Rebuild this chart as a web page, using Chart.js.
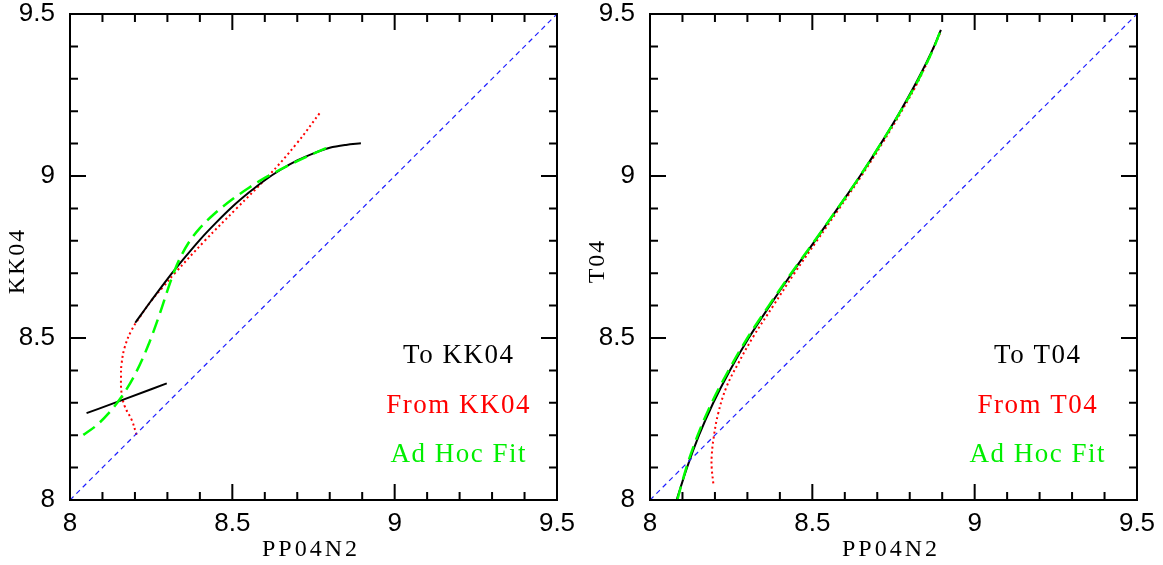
<!DOCTYPE html>
<html>
<head>
<meta charset="utf-8">
<script src="https://cdn.jsdelivr.net/npm/chart.js@4"></script>
<style>
  html, body { margin: 0; padding: 0; background: #fff; }
  #wrap { position: relative; width: 1163px; height: 565px; }
  .pane { position: absolute; top: 0; height: 565px; }
</style>
</head>
<body>
<div id="wrap">
  <div class="pane" style="left:0;width:580px"><canvas id="c1"></canvas></div>
  <div class="pane" style="left:580px;width:583px"><canvas id="c2"></canvas></div>
</div>
<script>
// ---------- data ----------
const axisMin = 8, axisMax = 9.5;
const xTitle = 'PP04N2';
const leftYTitle = 'KK04';
const rightYTitle = 'T04';
const identityX = [8, 8.5, 9, 9.5];
const identityY = [8, 8.5, 9, 9.5];

// Left panel (KK04)
const leftToUpperX = [8.201, 8.25, 8.30, 8.35, 8.40, 8.45, 8.50, 8.55, 8.60, 8.65, 8.70, 8.75, 8.80, 8.85, 8.896];
const leftToUpperY = [8.547, 8.615, 8.682, 8.744, 8.803, 8.856, 8.905, 8.948, 8.987, 9.020, 9.048, 9.070, 9.087, 9.096, 9.101];
const leftToLowerX = [8.051, 8.154, 8.298];
const leftToLowerY = [8.268, 8.306, 8.360];
const leftFromX = [8.205, 8.190, 8.169, 8.159, 8.157, 8.159, 8.169, 8.190, 8.216, 8.252, 8.287, 8.323, 8.415, 8.513, 8.611, 8.698, 8.772];
const leftFromY = [8.201, 8.247, 8.288, 8.329, 8.381, 8.422, 8.473, 8.525, 8.566, 8.617, 8.658, 8.700, 8.800, 8.900, 9.000, 9.100, 9.198];
const leftFitX = [8.041, 8.08, 8.12, 8.16, 8.20, 8.24, 8.28, 8.30, 8.32, 8.34, 8.37, 8.40, 8.45, 8.50, 8.55, 8.60, 8.65, 8.70, 8.75, 8.80];
const leftFitY = [8.201, 8.229, 8.269, 8.320, 8.387, 8.475, 8.585, 8.646, 8.703, 8.749, 8.801, 8.839, 8.888, 8.928, 8.963, 8.994, 9.021, 9.046, 9.069, 9.091];

// Right panel (T04)
const rightToX = [8.082, 8.114, 8.151, 8.195, 8.246, 8.304, 8.369, 8.437, 8.508, 8.578, 8.647, 8.711, 8.771, 8.826, 8.875, 8.896];
const rightToY = [8.000, 8.100, 8.200, 8.300, 8.400, 8.500, 8.600, 8.700, 8.800, 8.900, 9.000, 9.100, 9.200, 9.300, 9.400, 9.451];
const rightFromX = [8.195, 8.190, 8.190, 8.195, 8.210, 8.236, 8.272, 8.318, 8.380, 8.445, 8.514, 8.583, 8.651, 8.715, 8.775, 8.830, 8.893];
const rightFromY = [8.051, 8.100, 8.134, 8.185, 8.267, 8.350, 8.422, 8.504, 8.600, 8.700, 8.800, 8.900, 9.000, 9.100, 9.200, 9.300, 9.440];
const rightFitX = [8.084, 8.112, 8.147, 8.190, 8.242, 8.300, 8.366, 8.435, 8.507, 8.578, 8.647, 8.711, 8.772, 8.828, 8.876, 8.894];
const rightFitY = [8.000, 8.100, 8.200, 8.300, 8.400, 8.500, 8.600, 8.700, 8.800, 8.900, 9.000, 9.100, 9.200, 9.300, 9.400, 9.447];

// Legend texts: [text, colour, x, y]
const leftLabels = [['To KK04', '#000000', 9.195, 8.445], ['From KK04', '#ff0000', 9.195, 8.290], ['Ad Hoc Fit', '#00ee00', 9.195, 8.139]];
const rightLabels = [['To T04', '#000000', 9.192, 8.445], ['From T04', '#ff0000', 9.192, 8.290], ['Ad Hoc Fit', '#00ee00', 9.192, 8.139]];

// ---------- helpers ----------
function pts(xs, ys) { return xs.map((x, i) => ({ x: x, y: ys[i] })); }

function spacedText(ctx, text, x, y, ls) {
  ctx.letterSpacing = ls + 'px';
  const w = ctx.measureText(text).width - ls;
  ctx.textAlign = 'left';
  ctx.fillText(text, x - w / 2, y);
  ctx.letterSpacing = '0px';
}

const framePlugin = {
  id: 'frame',
  afterDatasetsDraw(chart) {
    const ctx = chart.ctx, a = chart.chartArea;
    const xs = chart.scales.x, ys = chart.scales.y;
    const o = chart.options.plugins.frame;
    ctx.save();
    ctx.setLineDash([]);
    ctx.strokeStyle = '#000';
    ctx.lineWidth = 2;
    ctx.strokeRect(a.left, a.top, a.right - a.left, a.bottom - a.top);
    ctx.beginPath();
    for (let k = 0; k <= 15; k++) {
      const v = axisMin + k * 0.1;
      const len = (k % 5 === 0) ? 16 : 8;
      const px = xs.getPixelForValue(v), py = ys.getPixelForValue(v);
      ctx.moveTo(px, a.bottom); ctx.lineTo(px, a.bottom - len);
      ctx.moveTo(px, a.top); ctx.lineTo(px, a.top + len);
      ctx.moveTo(a.left, py); ctx.lineTo(a.left + len, py);
      ctx.moveTo(a.right, py); ctx.lineTo(a.right - len, py);
    }
    ctx.stroke();

    ctx.textBaseline = 'middle';
    ctx.font = '27px "Liberation Serif"';
    o.labels.forEach(l => {
      ctx.fillStyle = l[1];
      spacedText(ctx, l[0], xs.getPixelForValue(l[2]), ys.getPixelForValue(l[3]), 1.5);
    });
    ctx.fillStyle = '#000';
    ctx.font = '24px "Liberation Serif"';
    spacedText(ctx, o.xTitle, (a.left + a.right) / 2 - 4, a.bottom + 50, 3);
    ctx.save();
    ctx.translate(18, (a.top + a.bottom) / 2 + 5);
    ctx.rotate(-Math.PI / 2);
    spacedText(ctx, o.yTitle, 0, 0, 2);
    ctx.restore();
    ctx.restore();
  }
};

function makeChart(id, yTitle, rightPad, toSets, fromX, fromY, fitX, fitY, labels) {
  // first dataset is drawn on top in Chart.js
  const datasets = [
    { label: 'Identity', data: pts(identityX, identityY), borderColor: '#1f1fff', borderWidth: 1.2, borderDash: [5, 4], tension: 0, order: 0 },
    { label: 'Ad Hoc Fit', data: pts(fitX, fitY), borderColor: '#00ff00', borderWidth: 2.5, borderDash: [14, 7], cubicInterpolationMode: 'monotone', order: 1 },
  ];
  toSets.forEach(s => datasets.push({ label: 'To', data: pts(s[0], s[1]), borderColor: '#000000', borderWidth: 2, cubicInterpolationMode: 'monotone', order: 2 }));
  datasets.push({ label: 'From', data: pts(fromX, fromY), borderColor: '#ff0000', borderWidth: 2, borderDash: [2, 3], tension: 0.4, order: 3 });
  datasets.forEach(d => { d.showLine = true; d.pointRadius = 0; d.fill = false; });

  const tickFont = { family: 'Liberation Sans', size: 26 };
  return new Chart(document.getElementById(id), {
    type: 'scatter',
    data: { datasets: datasets },
    options: {
      responsive: true,
      maintainAspectRatio: false,
      animation: false,
      layout: { padding: { top: 14, right: rightPad, left: 0, bottom: 0 } },
      plugins: { legend: { display: false }, tooltip: { enabled: false },
        frame: { labels: labels, xTitle: xTitle, yTitle: yTitle } },
      scales: {
        x: {
          type: 'linear', min: axisMin, max: axisMax,
          grid: { display: false, drawTicks: false },
          border: { display: false },
          ticks: { stepSize: 0.5, color: '#000', font: tickFont, padding: 8, maxRotation: 0,
                   callback: v => String(v) },
          afterFit(s) { s.height = 65; s.paddingLeft = 0; s.paddingRight = 0; }
        },
        y: {
          type: 'linear', min: axisMin, max: axisMax,
          grid: { display: false, drawTicks: false },
          border: { display: false },
          ticks: { stepSize: 0.5, color: '#000', font: tickFont, padding: 15,
                   callback: v => String(v) },
          afterFit(s) { s.width = 70; s.paddingTop = 0; s.paddingBottom = 0; }
        }
      }
    },
    plugins: [framePlugin]
  });
}

makeChart('c1', leftYTitle, 23,
  [[leftToUpperX, leftToUpperY], [leftToLowerX, leftToLowerY]],
  leftFromX, leftFromY, leftFitX, leftFitY, leftLabels);
makeChart('c2', rightYTitle, 26,
  [[rightToX, rightToY]],
  rightFromX, rightFromY, rightFitX, rightFitY, rightLabels);
</script>
</body>
</html>
